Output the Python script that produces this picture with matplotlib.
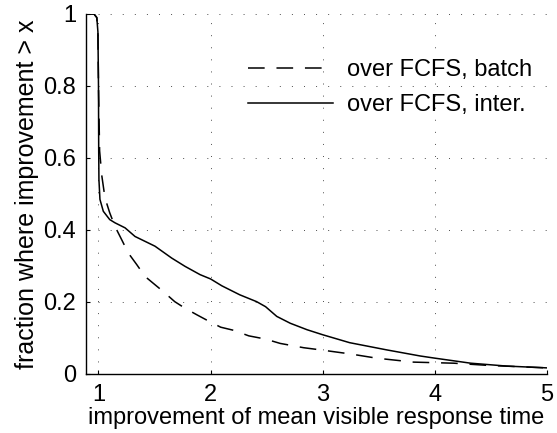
import matplotlib
matplotlib.use("Agg")
import matplotlib.pyplot as plt

plt.rcParams['font.family'] = ['Liberation Sans', 'DejaVu Sans']
plt.rcParams['lines.scale_dashes'] = False

# over FCFS, batch (dashed)
batch_x = [0.886, 0.96, 0.985, 0.995, 1.0, 1.01, 1.03, 1.058, 1.10, 1.147, 1.207, 1.266,
           1.341, 1.415, 1.504, 1.578, 1.68, 1.77, 1.88, 1.97, 2.09, 2.21, 2.34, 2.49,
           2.62, 2.83, 2.98, 3.24, 3.48, 3.81, 4.17, 4.47, 4.77, 5.0]
batch_y = [1.0, 1.0, 0.99, 0.95, 0.8, 0.62, 0.55, 0.489, 0.448, 0.41, 0.373, 0.336,
           0.304, 0.271, 0.248, 0.229, 0.201, 0.183, 0.164, 0.149, 0.130, 0.121, 0.106, 0.097,
           0.085, 0.073, 0.067, 0.056, 0.044, 0.033, 0.030, 0.024, 0.020, 0.017]

# over FCFS, inter. (solid)
inter_x = [0.886, 0.96, 0.985, 0.995, 1.0, 1.002, 1.004, 1.013, 1.043, 1.10, 1.147, 1.237,
           1.326, 1.504, 1.653, 1.772, 1.906, 2.0, 2.10, 2.26, 2.41, 2.49, 2.59, 2.71,
           2.86, 3.0, 3.24, 3.57, 3.87, 4.0, 4.32, 4.64, 5.0]
inter_y = [1.0, 1.0, 0.99, 0.95, 0.8, 0.62, 0.54, 0.485, 0.452, 0.429, 0.42, 0.406,
           0.382, 0.355, 0.322, 0.299, 0.276, 0.264, 0.245, 0.22, 0.201, 0.187, 0.16, 0.141,
           0.123, 0.109, 0.087, 0.067, 0.050, 0.044, 0.030, 0.022, 0.017]

x_ticks = [1, 2, 3, 4, 5]
y_ticks = [0, 0.2, 0.4, 0.6, 0.8, 1]
y_labels = ['0', '0.2', '0.4', '0.6', '0.8', '1']

fig = plt.figure(figsize=(5.57, 4.33), dpi=100)
ax = fig.add_axes([85.7 / 557, 1 - 374 / 433, (547 - 85.7) / 557, (374 - 14) / 433])

ax.plot(batch_x, batch_y, color='black', lw=1.1, dashes=(12, 8.5), label='over FCFS, batch')
ax.plot(inter_x, inter_y, color='black', lw=1.1, label='over FCFS, inter.')

ax.set_xlim(0.886, 5)
ax.set_ylim(0, 1)
ax.set_xticks(x_ticks)
ax.set_yticks(y_ticks)
ax.set_yticklabels(y_labels)
ax.tick_params(direction='in', length=3, width=0.8, labelsize=17, pad=7)
ax.tick_params(axis='x', pad=7.5)
ax.grid(True, color='0.3', lw=0.7, linestyle=(0, (0.7, 8)))

for s in ['top', 'right']:
    ax.spines[s].set_visible(False)
for s in ['left', 'bottom']:
    ax.spines[s].set_linewidth(1.0)

ax.set_xlabel('improvement of mean visible response time', fontsize=17, labelpad=0.5)
ax.set_ylabel('fraction where improvement > x', fontsize=18, labelpad=3)

ax.legend(loc='upper left', bbox_to_anchor=(248 / 557, 1 - 59 / 433),
          bbox_transform=fig.transFigure, frameon=False, fontsize=17,
          handlelength=3.6, handletextpad=0.6, borderpad=0, borderaxespad=0,
          labelspacing=0.55)

fig.savefig('out.png', dpi=100)
